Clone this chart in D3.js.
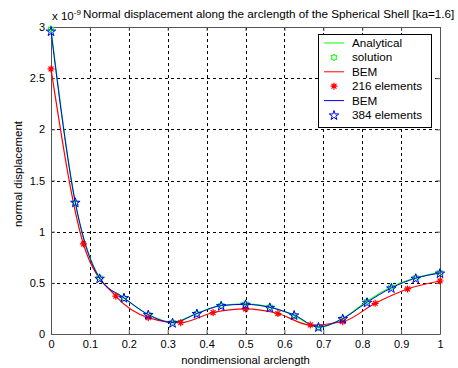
<!DOCTYPE html>
<html>
<head>
<meta charset="utf-8">
<script src="https://cdn.jsdelivr.net/npm/d3@7"></script>
<style>
  body { margin: 0; background: #fff; }
  svg { display: block; font-family: "Liberation Sans", Arial, sans-serif; }
</style>
</head>
<body>
<div id="chart"></div>
<script>
// values are in units of 1e-9
const xAnalytical = [0, 0.0625, 0.125, 0.1875, 0.25, 0.3125, 0.375, 0.4375, 0.5, 0.5625, 0.625, 0.6875, 0.75, 0.8125, 0.875, 0.9375, 1];
const yAnalytical = [2.98, 1.28, 0.55, 0.35, 0.19, 0.115, 0.2, 0.28, 0.295, 0.265, 0.18, 0.065, 0.15, 0.32, 0.46, 0.55, 0.6];

const x216 = [0, 0.0833, 0.1667, 0.25, 0.3333, 0.4167, 0.5, 0.5833, 0.6667, 0.75, 0.8333, 0.9167, 1];
const y216 = [2.59, 0.88, 0.37, 0.16, 0.11, 0.21, 0.245, 0.2, 0.088, 0.12, 0.3, 0.44, 0.518];

const x384 = [0, 0.0625, 0.125, 0.1875, 0.25, 0.3125, 0.375, 0.4375, 0.5, 0.5625, 0.625, 0.6875, 0.75, 0.8125, 0.875, 0.9375, 1];
const y384 = [2.96, 1.287, 0.544, 0.355, 0.19, 0.11, 0.2, 0.277, 0.29, 0.26, 0.186, 0.07, 0.15, 0.31, 0.45, 0.545, 0.595];

const xTicks = [0, 0.1, 0.2, 0.3, 0.4, 0.5, 0.6, 0.7, 0.8, 0.9, 1];
const yTicks = [0, 0.5, 1, 1.5, 2, 2.5, 3];

const legendItems = [
  { label: 'Analytical', kind: 'line', color: '#00ff00' },
  { label: 'solution', kind: 'hex', color: '#00ff00' },
  { label: 'BEM', kind: 'line', color: '#ff0000' },
  { label: '216 elements', kind: 'ast', color: '#ff0000' },
  { label: 'BEM', kind: 'line', color: '#0000ff' },
  { label: '384 elements', kind: 'star', color: '#0000ff' }
];

const width = 458, height = 368;
const plotLeft = 51, plotRight = 440, plotTop = 27, plotBottom = 334;

const svg = d3.select('#chart').append('svg')
  .attr('width', width)
  .attr('height', height);

const x = d3.scaleLinear().domain([0, 1]).range([plotLeft, plotRight]);
const y = d3.scaleLinear().domain([0, 3]).range([plotBottom, plotTop]);

// grid
const grid = svg.append('g')
  .attr('stroke', '#000')
  .attr('stroke-width', 1)
  .attr('stroke-dasharray', '3,3')
  .attr('shape-rendering', 'crispEdges');
xTicks.slice(1, -1).forEach(t => {
  grid.append('line')
    .attr('x1', Math.round(x(t)) + 0.5).attr('x2', Math.round(x(t)) + 0.5)
    .attr('y1', plotTop).attr('y2', plotBottom);
});
yTicks.slice(1, -1).forEach(t => {
  grid.append('line')
    .attr('x1', plotLeft).attr('x2', plotRight)
    .attr('y1', Math.round(y(t)) + 0.5).attr('y2', Math.round(y(t)) + 0.5);
});

// axes
svg.append('g')
  .attr('transform', `translate(0,${plotBottom})`)
  .call(d3.axisBottom(x).tickValues(xTicks).tickFormat(d3.format('~g')).tickSizeInner(-4).tickSizeOuter(0).tickPadding(6));
svg.append('g')
  .attr('transform', `translate(${plotLeft},0)`)
  .call(d3.axisLeft(y).tickValues(yTicks).tickFormat(d3.format('~g')).tickSizeInner(-4).tickSizeOuter(0).tickPadding(6));
svg.append('g')
  .attr('transform', `translate(0,${plotTop})`)
  .call(d3.axisTop(x).tickValues(xTicks).tickFormat('').tickSizeInner(-4).tickSizeOuter(0));
svg.append('g')
  .attr('transform', `translate(${plotRight},0)`)
  .call(d3.axisRight(y).tickValues(yTicks).tickFormat('').tickSizeInner(-4).tickSizeOuter(0));

svg.selectAll('.domain, .tick line').attr('stroke', '#555');
svg.selectAll('.tick text')
  .attr('font-size', '11px')
  .attr('fill', '#000')
  .attr('font-family', '"Liberation Sans", Arial, sans-serif');

// curves
const curve = d3.line()
  .x(d => x(d[0]))
  .y(d => y(d[1]))
  .curve(d3.curveMonotoneX);

const analytical = d3.zip(xAnalytical, yAnalytical);
const bem216 = d3.zip(x216, y216);
const bem384 = d3.zip(x384, y384);

const plot = svg.append('g');

plot.append('path').attr('d', curve(analytical))
  .attr('fill', 'none').attr('stroke', '#00ff00').attr('stroke-width', 1.2);
plot.append('path').attr('d', curve(bem216))
  .attr('fill', 'none').attr('stroke', '#ff0000').attr('stroke-width', 1.2);
plot.append('path').attr('d', curve(bem384))
  .attr('fill', 'none').attr('stroke', '#0000ff').attr('stroke-width', 1);

// markers
function drawMarker(g, kind, color, cx, cy) {
  if (kind === 'ast') {
    const r = 3.5;
    const p = `M${cx - r},${cy}L${cx + r},${cy}M${cx},${cy - r}L${cx},${cy + r}` +
      `M${cx - r * 0.7},${cy - r * 0.7}L${cx + r * 0.7},${cy + r * 0.7}` +
      `M${cx - r * 0.7},${cy + r * 0.7}L${cx + r * 0.7},${cy - r * 0.7}`;
    g.append('path').attr('d', p).attr('stroke', color).attr('stroke-width', 1.2).attr('fill', 'none');
  } else if (kind === 'star') {
    g.append('path').attr('d', d3.symbol().type(d3.symbolStar).size(28)())
      .attr('transform', `translate(${cx},${cy + 0.5})`)
      .attr('fill', 'none').attr('stroke', color).attr('stroke-width', 1);
  } else if (kind === 'hex') {
    // six-pointed star
    const pts = [];
    for (let i = 0; i < 12; i++) {
      const a = Math.PI / 6 * i - Math.PI / 2;
      const r = i % 2 === 0 ? 3.5 : 2;
      pts.push([cx + r * Math.cos(a), cy + r * Math.sin(a)]);
    }
    g.append('path').attr('d', 'M' + pts.join('L') + 'Z')
      .attr('fill', 'none').attr('stroke', color).attr('stroke-width', 1);
  }
}

analytical.forEach(d => drawMarker(plot, 'hex', '#00ff00', x(d[0]), y(d[1])));
bem216.forEach(d => drawMarker(plot, 'ast', '#ff0000', x(d[0]), y(d[1])));
bem384.forEach(d => drawMarker(plot, 'star', '#0000ff', x(d[0]), y(d[1])));

// title and exponent
svg.append('text')
  .attr('x', 83).attr('y', 18)
  .attr('font-size', '11.7px')
  .text('Normal displacement along the arclength of the Spherical Shell [ka=1.6]');
const expo = svg.append('text')
  .attr('x', 52).attr('y', 20)
  .attr('font-size', '11.5px')
  .text('x 10');
expo.append('tspan').attr('dy', -5).attr('font-size', '8px').text('-9');

// axis labels
svg.append('text')
  .attr('x', (plotLeft + plotRight) / 2).attr('y', 364)
  .attr('text-anchor', 'middle')
  .attr('font-size', '11.3px')
  .text('nondimensional arclength');
svg.append('text')
  .attr('transform', `translate(22,174) rotate(-90)`)
  .attr('text-anchor', 'middle')
  .attr('font-size', '11.5px')
  .text('normal displacement');

// legend
const legend = svg.append('g');
legend.append('rect')
  .attr('x', 318.5).attr('y', 34.5)
  .attr('width', 113).attr('height', 93)
  .attr('fill', '#fff').attr('stroke', '#000').attr('stroke-width', 1);
legendItems.forEach((item, i) => {
  const ly = 43 + i * 14.4;
  if (item.kind === 'line') {
    legend.append('line')
      .attr('x1', 324).attr('x2', 344)
      .attr('y1', ly).attr('y2', ly)
      .attr('stroke', item.color).attr('stroke-width', 1);
  } else {
    drawMarker(legend, item.kind, item.color, 334, ly);
  }
  legend.append('text')
    .attr('x', 352).attr('y', ly + 4)
    .attr('font-size', '11.7px')
    .text(item.label);
});
</script>
</body>
</html>
